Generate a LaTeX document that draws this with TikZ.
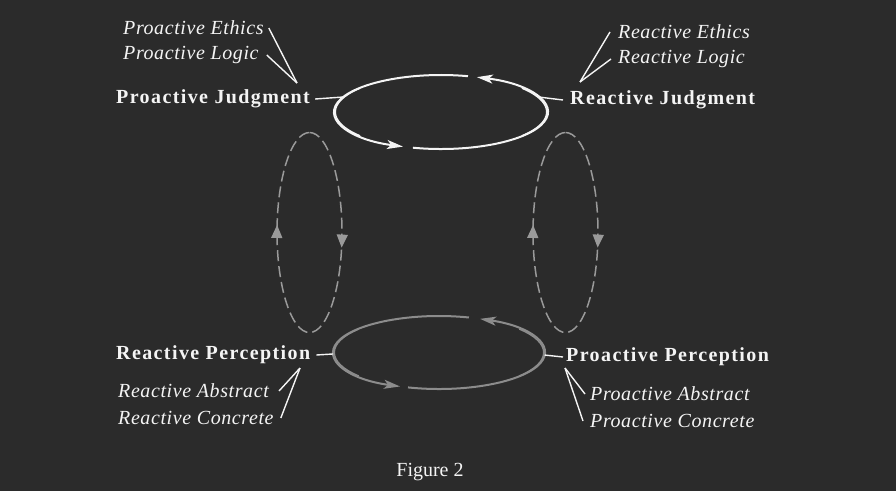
\documentclass[tikz,border=0pt]{standalone}
\usepackage{fontspec}
\setmainfont{Liberation Serif}
\newfontfamily\stagefont[LetterSpace=7]{Liberation Serif}
\newfontfamily\modefont[LetterSpace=3]{Liberation Serif}
\usetikzlibrary{arrows.meta,decorations.markings,positioning}
\definecolor{bgdark}{HTML}{2B2B2B}
\definecolor{inkwhite}{HTML}{F4F4F4}
\definecolor{inkgray}{HTML}{8C8C8C}
\definecolor{dashgray}{HTML}{9A9A9A}
\tikzstyle{stage}=[font=\stagefont\bfseries\fontsize{20}{24}\selectfont, text=inkwhite, inner sep=0]
\tikzstyle{mode}=[font=\modefont\itshape\fontsize{20}{24}\selectfont, text=inkwhite, inner sep=0]
\tikzstyle{tick}=[draw=inkwhite, line width=1.4pt]
\tikzstyle{ring}=[line width=2pt, -{Stealth[length=16pt,width=9pt,inset=4pt]}]
\tikzstyle{swing}=[draw=dashgray, line width=1.5pt, dash pattern=on 11pt off 5pt]
\newcommand{\ring}[8]{
\draw[ring,#1] ([shift={(#5:#3 and #4)}]#2) arc[start angle=#5, end angle=#6, x radius=#3, y radius=#4];
\draw[ring,#1] ([shift={(#7:#3 and #4)}]#2) arc[start angle=#7, end angle=#8, x radius=#3, y radius=#4];
% heavier strokes on the sides
\draw[#1, line width=1.4pt] ([shift={(140:#3-1.3 and #4)}]#2) arc[start angle=140, end angle=220, x radius=#3-1.3, y radius=#4];
\draw[#1, line width=1.4pt] ([shift={(-40:#3-1.3 and #4)}]#2) arc[start angle=-40, end angle=40, x radius=#3-1.3, y radius=#4];
}

\begin{document}
\begin{tikzpicture}[x=1pt,y=-1pt]
\fill[bgdark] (0,0) rectangle (896,491);
\useasboundingbox (0,0) rectangle (896,491);

% the two loops
\coordinate (top) at (441,112);
\coordinate (bot) at (439,352.5);
\ring{inkwhite}{top}{107}{37}{284.6}{110.8}{105.2}{-70.4}
\ring{inkgray}{bot}{106}{36.5}{286.4}{111.6}{107}{-67.2}

% side swings
\newcommand{\swing}[1]{
\draw[swing, postaction={decorate}, decoration={markings,
  mark=at position 0.284 with {\arrow{Triangle[length=13pt,width=11pt]}},
  mark=at position 0.767 with {\arrow{Triangle[length=13pt,width=11pt]}}}]
  (#1) ++(0,-100) arc[start angle=-90, end angle=270, x radius=32.5, y radius=100];
}
\coordinate (lsw) at (309.5,232.5);
\coordinate (rsw) at (565.5,232.5);
\swing{lsw}
\swing{rsw}

% labels
\node[stage, anchor=west] (pj) at (116,99) {Proactive Judgment};
\node[mode, anchor=west] (pe) at (123,28) {Proactive Ethics};
\node[mode, anchor=west] (pl) at (123,55) {Proactive Logic};
\node[stage, anchor=west] (rj) at (570,100) {Reactive Judgment};
\node[mode, anchor=west] (re) at (618,32) {Reactive Ethics};
\node[mode, anchor=west] (rl) at (618,59) {Reactive Logic};
\node[stage, anchor=west] (rp) at (116,355) {Reactive Perception};
\node[mode, anchor=west] (ra) at (118,391) {Reactive Abstract};
\node[mode, anchor=west] (rc) at (118,418) {Reactive Concrete};
\node[stage, anchor=west] (pp) at (566,357) {Proactive Perception};
\node[mode, anchor=west] (pa) at (590,394) {Proactive Abstract};
\node[mode, anchor=west] (pc) at (590,421) {Proactive Concrete};
\node[font=\fontsize{20}{24}\selectfont, text=inkwhite] (fig) at (430,472) {Figure 2};

% ticks to the loops
\draw[tick] ([xshift=5pt]pj.east) -- ([shift={(203.9:107 and 37)}]top);
\draw[tick] ([xshift=-7pt]rj.west) -- ([shift={(-23.9:107 and 37)}]top);
\draw[tick] ([xshift=6pt]rp.east) -- ([shift={(177.7:106 and 36.5)}]bot);
\draw[tick] ([xshift=-3pt]pp.west) -- ([shift={(4:106 and 36.5)}]bot);

% pointers from the sub labels
\coordinate (pjv) at (297,83);
\coordinate (rjv) at (580,82);
\coordinate (rpv) at (300,368);
\coordinate (ppv) at (565,368);
\draw[tick] ([xshift=5pt]pe.east) -- (pjv);
\draw[tick] ([xshift=8pt]pl.east) -- (pjv);
\draw[tick] ([xshift=-8pt]re.west) -- (rjv);
\draw[tick] ([xshift=-7pt]rl.west) -- (rjv);
\draw[tick] ([xshift=10pt]ra.east) -- (rpv);
\draw[tick] ([xshift=7pt]rc.east) -- (rpv);
\draw[tick] ([xshift=-5pt]pa.west) -- (ppv);
\draw[tick] ([xshift=-7pt]pc.west) -- (ppv);
\end{tikzpicture}
\end{document}
